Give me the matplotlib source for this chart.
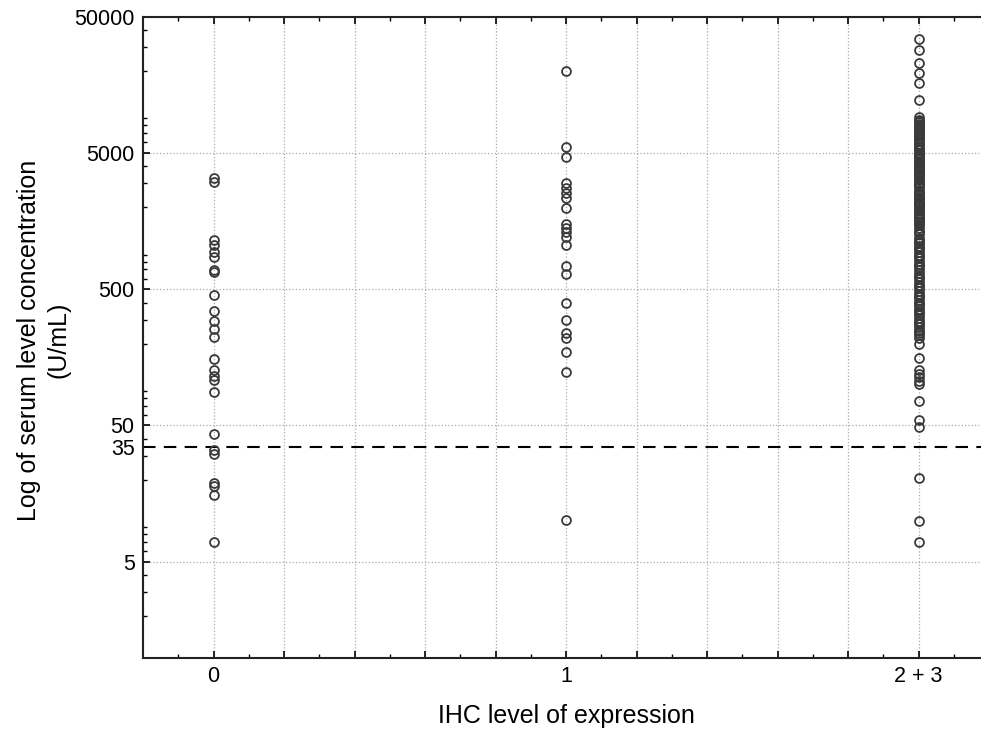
import numpy as np
import matplotlib
matplotlib.use("Agg")
import matplotlib.pyplot as plt
from matplotlib.ticker import FixedLocator, LogLocator, NullFormatter

plt.rcParams['font.family'] = ['Liberation Sans', 'DejaVu Sans']

# IHC groups and their x positions
groups = ['0', '1', '2 + 3']
group_pos = [0, 1, 2]

# serum level (U/mL) per IHC group
ihc_0 = [3300, 3050, 1150, 1055, 940, 865, 690, 675, 451, 344, 291, 254, 222,
         155, 128, 115, 107, 88, 43.5, 33, 31, 19, 18, 15.5, 7]

ihc_1 = [19900, 5560, 4710, 3040, 2790, 2540, 2350, 1990, 1520, 1400, 1310,
         1220, 1050, 738, 652, 396, 296, 237, 218, 173, 123, 10.1]

ihc_23 = [34300, 28600, 22850, 19300, 16300, 12300, 9150,
          8750, 8550, 8400, 8250, 7900, 7750, 7600, 7450, 7150, 6950, 6800,
          6700, 6450, 6300, 6150, 5850, 5800, 5550, 5400, 5300, 5250, 5000,
          4900, 4750, 4700, 4500, 4400, 4300, 4250, 4100, 4000, 3900, 3850,
          3700, 3600, 3500, 3450, 3350, 3250, 3150, 3000, 2950, 2850, 2800,
          2700, 2600, 2550, 2450, 2400, 2350, 2300, 2200, 2150, 2100, 2050,
          2000, 1950, 1900, 1820, 1800, 1720, 1680, 1650, 1600, 1550, 1520,
          1480, 1400, 1350, 1320, 1280, 1200, 1150, 1120, 1100, 1040, 1010,
          990, 940, 900, 880, 850, 810, 770, 750, 730, 690, 660, 630, 615,
          600, 570, 540, 525, 515, 490, 465, 450, 440, 420, 400, 390, 380,
          360, 345, 335, 325, 310, 295, 285, 280, 265, 252, 245, 240,
          229, 218, 197, 156, 128, 120, 113, 106, 100, 75, 55, 49, 20.7, 9.9, 7]

cutoff = 35

# y tick values and labels
ytick_vals = [5, 35, 50, 500, 5000, 50000]
ytick_labels = ['5', '35', '50', '500', '5000', '50000']

fig = plt.figure(figsize=(9.81, 7.35), dpi=100)
ax = fig.add_axes([143 / 981, 1 - 658 / 735, 846 / 981, 641 / 735])

for pos, vals in zip(group_pos, [ihc_0, ihc_1, ihc_23]):
    ax.plot([pos] * len(vals), vals, linestyle='none', marker='o',
            markersize=6.4, markerfacecolor='none', markeredgecolor='#3a3a3a',
            markeredgewidth=1.3, zorder=3)

ax.axhline(cutoff, color='black', linestyle=(0, (6, 4)), linewidth=1.5, zorder=2)

ax.set_yscale('log')
ax.set_ylim(0.98, 50000)
ax.set_xlim(-0.2, 2.2)

# x ticks every 0.2 with labels only at the groups
xmaj = [round(v, 1) for v in np.arange(-0.2, 2.21, 0.2)]
xlab = []
for v in xmaj:
    if v in group_pos:
        xlab.append(groups[group_pos.index(v)])
    else:
        xlab.append('')
ax.xaxis.set_major_locator(FixedLocator(xmaj))
ax.set_xticklabels(xlab)
ax.xaxis.set_minor_locator(FixedLocator([round(v, 1) for v in np.arange(-0.1, 2.2, 0.2)]))

ax.yaxis.set_major_locator(FixedLocator(ytick_vals))
ax.set_yticklabels(ytick_labels)
ax.yaxis.set_minor_locator(LogLocator(base=10, subs=np.arange(2, 10)))
ax.yaxis.set_minor_formatter(NullFormatter())

ax.tick_params(axis='both', which='both', direction='in', labelsize=15.5,
               top=True, right=False, color='black')
ax.tick_params(axis='both', which='major', length=5, width=1.2)
ax.tick_params(axis='both', which='minor', length=3, width=1)
ax.tick_params(axis='x', pad=6)
ax.tick_params(axis='y', pad=6)

ax.grid(True, which='major', linestyle=':', color='#aaaaaa', linewidth=0.9)
# no grid line at the cutoff tick, the dashed line takes its place
for gl, v in zip(ax.yaxis.get_gridlines(), ytick_vals):
    if v == cutoff:
        gl.set_visible(False)

for s in ax.spines.values():
    s.set_linewidth(1.5)
    s.set_color('#222222')

ax.set_xlabel('IHC level of expression', fontsize=18, labelpad=12)
fig.text(44 / 981, 1 - 340 / 735, 'Log of serum level concentration\n(U/mL)',
         rotation=90, fontsize=18, ha='center', va='center',
         multialignment='center', linespacing=1.3)

fig.savefig('out.png', dpi=100)
